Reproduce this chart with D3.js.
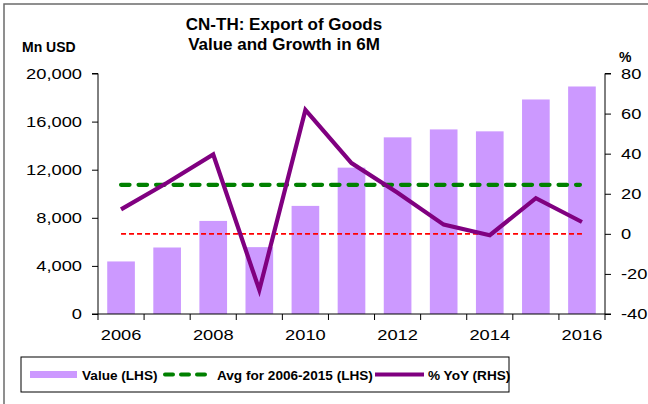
<!DOCTYPE html>
<html>
<head>
<meta charset="utf-8">
<script src="https://cdn.jsdelivr.net/npm/d3@7"></script>
<style>
  html, body { margin: 0; padding: 0; background: #fff; }
  svg { display: block; font-family: Arial, "Liberation Sans", sans-serif; }
</style>
</head>
<body>
<svg id="chart" width="648" height="404"></svg>
<script>
// Export of goods, China to Thailand, first six months of each year
const years = ["2006","2007","2008","2009","2010","2011","2012","2013","2014","2015","2016"];
const valueMnUSD = [4370, 5530, 7740, 5560, 8990, 12170, 14690, 15350, 15190, 17840, 18920];
const yoyPct = [12.2, 25.5, 39.6, -28.0, 61.8, 35.3, 20.5, 4.6, -0.7, 17.8, 5.9];
const avgYears = ["2006","2007","2008","2009","2010","2011","2012","2013","2014","2015"];
const leftTicks = [0, 4000, 8000, 12000, 16000, 20000];
const rightTicks = [-40, -20, 0, 20, 40, 60, 80];
const xLabelYears = ["2006","2008","2010","2012","2014","2016"];

const avgValue = d3.mean(avgYears.map(y => valueMnUSD[years.indexOf(y)]));

const svg = d3.select("#chart");
const plot = { left: 98, right: 605, top: 73.5, bottom: 314 };
const stretch = 1.22; // axis labels use a widened face

// outer frame (only top and left edges fall inside the view)
svg.append("rect").attr("x", 4).attr("y", 4).attr("width", 700).attr("height", 500)
  .attr("fill", "none").attr("stroke", "#6b6b6b").attr("stroke-width", 1.5);

const x = d3.scaleBand().domain(years).range([plot.left, plot.right]).paddingInner(0.4).paddingOuter(0.2);
const xc = d => x(d) + x.bandwidth() / 2;
const yL = d3.scaleLinear().domain([0, 20000]).range([plot.bottom, plot.top]);
const yR = d3.scaleLinear().domain([-40, 80]).range([plot.bottom, plot.top]);

// bars
svg.append("g").selectAll("rect").data(years).join("rect")
  .attr("x", d => x(d)).attr("width", x.bandwidth())
  .attr("y", (d, i) => yL(valueMnUSD[i]))
  .attr("height", (d, i) => yL(0) - yL(valueMnUSD[i]))
  .attr("fill", "#cc99ff");

// zero line for growth
svg.append("line")
  .attr("x1", xc(years[0])).attr("x2", xc(years[years.length - 1]))
  .attr("y1", yR(0)).attr("y2", yR(0))
  .attr("stroke", "#ff0000").attr("stroke-width", 1.8).attr("stroke-dasharray", "5,3");

// average line
svg.append("line")
  .attr("x1", xc(years[0])).attr("x2", xc(years[years.length - 1]) - 2)
  .attr("y1", yL(avgValue)).attr("y2", yL(avgValue))
  .attr("stroke", "#008000").attr("stroke-width", 4.2)
  .attr("stroke-linecap", "round").attr("stroke-dasharray", "8.5,9");

// growth line
const line = d3.line().x((d, i) => xc(years[i])).y(d => yR(d));
svg.append("path").datum(yoyPct)
  .attr("d", line).attr("fill", "none")
  .attr("stroke", "#800080").attr("stroke-width", 4.2).attr("stroke-linejoin", "miter");

// axes
const axisFont = g => g.selectAll("text").attr("font-size", 15).attr("fill", "#000")
  .attr("font-family", "Arial, 'Liberation Sans', sans-serif")
  .attr("transform", `scale(${stretch},1)`);
const axisLines = g => g.selectAll("path, line").attr("stroke", "#000").attr("stroke-width", 1);

const yAxisL = d3.axisLeft(yL).tickValues(leftTicks).tickSize(6).tickPadding(6)
  .tickFormat(d3.format(","));
svg.append("g").attr("transform", `translate(${plot.left},0)`).call(yAxisL)
  .call(g => g.select(".domain").attr("d", `M-6,${plot.top}H0V${plot.bottom}H-6`))
  .call(axisFont).call(axisLines)
  .call(g => g.selectAll("text").attr("x", -16 / stretch));

const yAxisR = d3.axisRight(yR).tickValues(rightTicks).tickSize(6).tickPadding(6)
  .tickFormat(d3.format("d"));
svg.append("g").attr("transform", `translate(${plot.right},0)`).call(yAxisR)
  .call(g => g.select(".domain").attr("d", `M6,${plot.top}H0V${plot.bottom}H6`))
  .call(axisFont).call(axisLines)
  .call(g => g.selectAll("text").attr("x", 16 / stretch)
    .text(d => d < 0 ? "-" + Math.abs(d) : d));

// x axis: ticks between categories, labels on alternate years
const xAxisG = svg.append("g").attr("transform", `translate(0,${plot.bottom})`);
xAxisG.append("line").attr("x1", plot.left).attr("x2", plot.right)
  .attr("y1", 0).attr("y2", 0).attr("stroke", "#000");
const step = x.step();
const boundaries = d3.range(years.length + 1).map(i => plot.left + i * step);
xAxisG.selectAll("line.tk").data(boundaries).join("line").attr("class", "tk")
  .attr("x1", d => d).attr("x2", d => d).attr("y1", 0).attr("y2", 6).attr("stroke", "#000");
xAxisG.selectAll("text").data(xLabelYears).join("text")
  .attr("transform", d => `translate(${xc(d)},26) scale(${stretch},1)`)
  .attr("text-anchor", "middle")
  .attr("font-size", 15).text(d => d);

// titles
svg.append("text").attr("x", 284).attr("y", 30).attr("text-anchor", "middle")
  .attr("font-size", 17).attr("font-weight", "bold").text("CN-TH: Export of Goods");
svg.append("text").attr("x", 284).attr("y", 50).attr("text-anchor", "middle")
  .attr("font-size", 17).attr("font-weight", "bold").text("Value and Growth in 6M");
svg.append("text").attr("x", 22).attr("y", 52).attr("font-size", 14)
  .attr("font-weight", "bold").text("Mn USD");
svg.append("text").attr("x", 619).attr("y", 62).attr("font-size", 14)
  .attr("font-weight", "bold").text("%");

// legend
const lg = svg.append("g");
lg.append("rect").attr("x", 21).attr("y", 357).attr("width", 488).attr("height", 35)
  .attr("fill", "#fff").attr("stroke", "#000").attr("stroke-width", 1);
const ly = 374.5;
const lgFont = 13.6;
lg.append("rect").attr("x", 30).attr("y", ly - 3.5).attr("width", 47).attr("height", 7).attr("fill", "#cc99ff");
lg.append("text").attr("x", 82).attr("y", ly + 5).attr("font-size", lgFont).attr("font-weight", "bold").text("Value (LHS)");
lg.append("line").attr("x1", 165).attr("x2", 211).attr("y1", ly).attr("y2", ly)
  .attr("stroke", "#008000").attr("stroke-width", 4).attr("stroke-linecap", "round")
  .attr("stroke-dasharray", "8,8");
lg.append("text").attr("x", 217).attr("y", ly + 5).attr("font-size", lgFont).attr("font-weight", "bold").text("Avg for 2006-2015 (LHS)");
lg.append("line").attr("x1", 375).attr("x2", 424).attr("y1", ly).attr("y2", ly)
  .attr("stroke", "#800080").attr("stroke-width", 4);
lg.append("text").attr("x", 428).attr("y", ly + 5).attr("font-size", lgFont).attr("font-weight", "bold").text("% YoY (RHS)");
</script>
</body>
</html>
